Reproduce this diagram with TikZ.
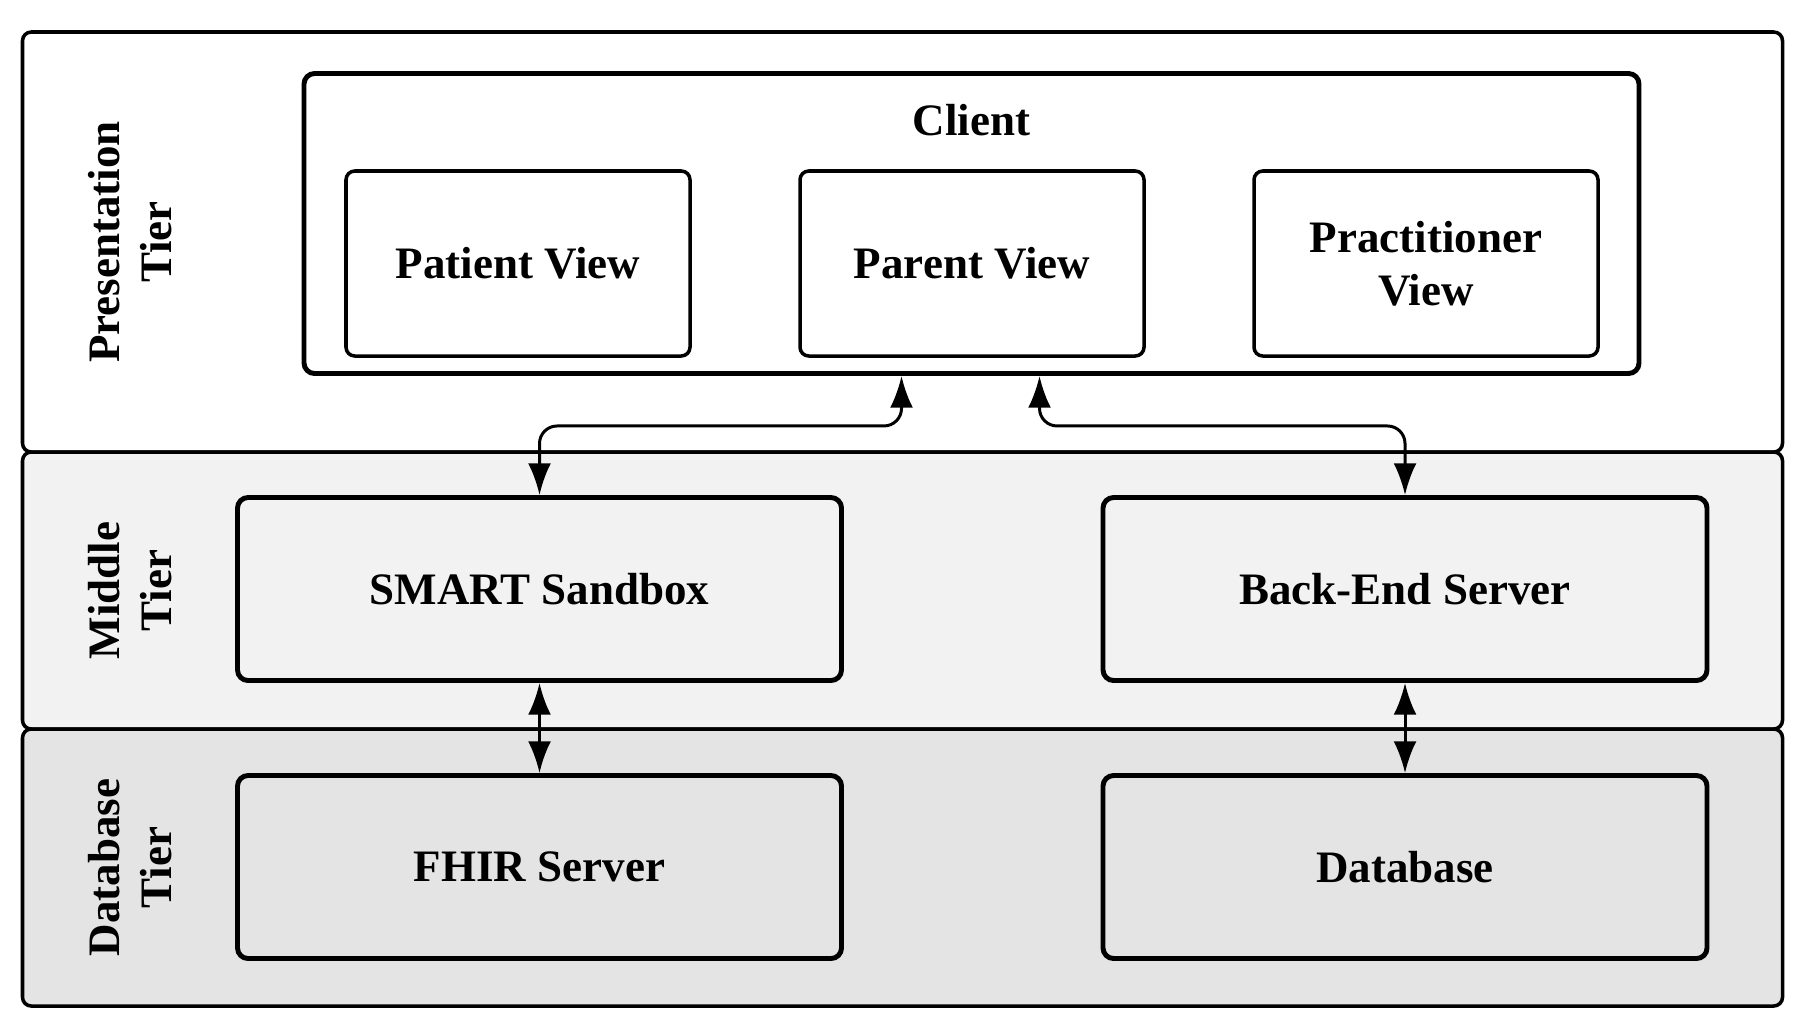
\documentclass[tikz,border=0pt]{standalone}
\usepackage{fontspec}
\setmainfont{Liberation Serif}
\usetikzlibrary{arrows.meta,positioning}

\definecolor{midgray}{HTML}{F2F2F2}
\definecolor{dbgray}{HTML}{E4E4E4}

\begin{document}
\begin{tikzpicture}[>={Latex[length=9pt,width=6.5pt]},auto,node distance=4.54cm,
                    font=\fontsize{12.8}{15}\selectfont\bfseries]
  \tikzstyle{tier}=[draw=black,line width=1pt,rounded corners=2.5pt,minimum width=17.6cm,outer sep=0pt,inner sep=0pt]
  \tikzstyle{view}=[draw=black,line width=1pt,rounded corners=2.5pt,minimum width=3.44cm,minimum height=1.85cm,align=center]
  \tikzstyle{box}=[draw=black,line width=1.4pt,rounded corners=3pt,minimum width=6.04cm,minimum height=1.83cm]
  \tikzstyle{tiername}=[rotate=90,align=center]
  \tikzstyle{link}=[<->,line width=0.85pt,rounded corners=5pt]

  \useasboundingbox (0,0) rectangle (18.11,-10.33);

  % tiers
  \node[tier,minimum height=4.2cm,fill=white] (pres) at (9.025,-2.42) {};
  \node[tier,minimum height=2.77cm,fill=midgray] (mid) [below=0pt of pres] {};
  \node[tier,minimum height=2.77cm,fill=dbgray] (db) [below=0pt of mid] {};

  \node[tiername] (presname) at (1.30,-2.42) {Presentation\\Tier};
  \node[tiername] (midname)  at (1.30,-5.905) {Middle\\Tier};
  \node[tiername] (dbname)   at (1.30,-8.675) {Database\\Tier};

  % client
  \node[draw=black,line width=1.4pt,rounded corners=3pt,minimum width=13.35cm,
        minimum height=3.0cm] (client) at (9.715,-2.235) {};
  \node (clientname) at ([yshift=-0.49cm]client.north) {Client};

  \node[view] (patient)                      at (5.18,-2.635) {Patient View};
  \node[view] (parent)       [right of=patient] {Parent View};
  \node[view] (practitioner) [right of=parent]  {Practitioner\\View};

  % middle and database
  \node[box,fill=midgray] (smart) at (5.395,-5.89) {SMART Sandbox};
  \node[box,fill=midgray] (backend) [right of=smart,node distance=8.655cm] {Back-End Server};
  \node[box,fill=dbgray]  (fhir)    [below of=smart,node distance=2.78cm] {FHIR Server};
  \node[box,fill=dbgray]  (database) [right of=fhir,node distance=8.655cm] {Database};

  \draw[link] (smart.north) |- ([xshift=-0.7cm,yshift=-0.5cm]client.south)
                            -- ([xshift=-0.7cm]client.south);
  \draw[link] (backend.north) |- ([xshift=0.68cm,yshift=-0.5cm]client.south)
                              -- ([xshift=0.68cm]client.south);
  \draw[link] (smart) -- (fhir);
  \draw[link] (backend) -- (database);
\end{tikzpicture}
\end{document}
